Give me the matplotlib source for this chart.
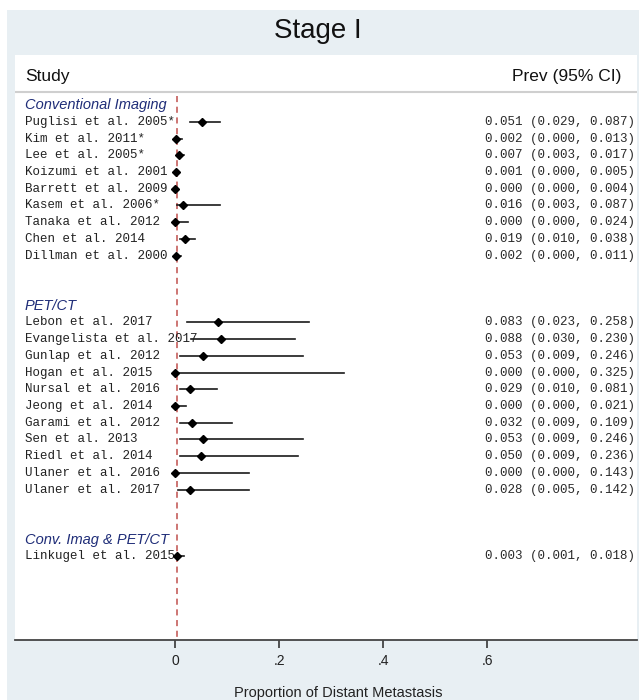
import numpy as np
import matplotlib.pyplot as plt
from matplotlib.patches import Rectangle

# ----------------------------------------------
# data
groups = ['Conventional Imaging', 'PET/CT', 'Conv. Imag & PET/CT']

conv_studies = ['Puglisi et al. 2005*', 'Kim et al. 2011*', 'Lee et al. 2005*',
                'Koizumi et al. 2001', 'Barrett et al. 2009', 'Kasem et al. 2006*',
                'Tanaka et al. 2012', 'Chen et al. 2014', 'Dillman et al. 2000']
conv_prev = [0.051, 0.002, 0.007, 0.001, 0.000, 0.016, 0.000, 0.019, 0.002]
conv_lo = [0.029, 0.000, 0.003, 0.000, 0.000, 0.003, 0.000, 0.010, 0.000]
conv_hi = [0.087, 0.013, 0.017, 0.005, 0.004, 0.087, 0.024, 0.038, 0.011]

pet_studies = ['Lebon et al. 2017', 'Evangelista et al. 2017', 'Gunlap et al. 2012',
               'Hogan et al. 2015', 'Nursal et al. 2016', 'Jeong et al. 2014',
               'Garami et al. 2012', 'Sen et al. 2013', 'Riedl et al. 2014',
               'Ulaner et al. 2016', 'Ulaner et al. 2017']
pet_prev = [0.083, 0.088, 0.053, 0.000, 0.029, 0.000, 0.032, 0.053, 0.050, 0.000, 0.028]
pet_lo = [0.023, 0.030, 0.009, 0.000, 0.010, 0.000, 0.009, 0.009, 0.009, 0.000, 0.005]
pet_hi = [0.258, 0.230, 0.246, 0.325, 0.081, 0.021, 0.109, 0.246, 0.236, 0.143, 0.142]

both_studies = ['Linkugel et al. 2015']
both_prev = [0.003]
both_lo = [0.001]
both_hi = [0.018]

xticks = [0, 0.2, 0.4, 0.6]
xtick_labels = ['0', '.2', '.4', '.6']
ref_line = 0.004

# ----------------------------------------------
bg = '#e8eff3'
navy = '#1f2d78'
mono = 'Liberation Mono'
sans = 'Liberation Sans'

fig = plt.figure(figsize=(6.39, 7.0), dpi=100, facecolor='white')
fig.patches.append(Rectangle((7 / 639, 0), 1, 1 - 10 / 700, transform=fig.transFigure,
                             facecolor=bg, edgecolor='none', zorder=-10))

ax = fig.add_axes([15 / 639, 60 / 700, 622 / 639, 585 / 700])
ax.set_facecolor('white')
ax.set_xlim(-0.3077, 0.888)
ax.set_ylim(32, -3)

# build row layout: group header, studies, two blank rows
sets = [(groups[0], conv_studies, conv_prev, conv_lo, conv_hi),
        (groups[1], pet_studies, pet_prev, pet_lo, pet_hi),
        (groups[2], both_studies, both_prev, both_lo, both_hi)]

row = 0
for name, studies, prev, lo, hi in sets:
    ax.text(-0.2885, row, name, fontsize=10.5, style='italic', color=navy,
            family=sans, va='center', ha='left')
    row += 1
    for s, p, l, h in zip(studies, prev, lo, hi):
        ax.plot([l, h], [row, row], color='#1a1a1a', lw=1.2, zorder=3)
        ax.plot(p, row, marker='D', color='black', ms=4.5, zorder=4)
        ax.text(-0.2885, row, s, fontsize=9, family=mono, color='#222222',
                va='center', ha='left')
        ax.text(0.885, row, '%.3f (%.3f, %.3f)' % (p, l, h), fontsize=9,
                family=mono, color='#2a2a2a', va='center', ha='right')
        row += 1
    row += 2

# reference line
ax.plot([ref_line, ref_line], [-0.55, 32], color='#c0504d', lw=1.1,
        ls=(0, (4, 3)), zorder=2)

# header
ax.text(-0.2885, -1.7, 'Study', fontsize=12.5, family=sans, color='#111111',
        va='center', ha='left')
ax.text(0.858, -1.7, 'Prev (95% CI)', fontsize=12.5, family=sans, color='#111111',
        va='center', ha='right')
ax.axhline(-0.8, color='#cfcfcf', lw=1.5)

# axis styling
for side in ['top', 'right', 'left']:
    ax.spines[side].set_visible(False)
ax.spines['bottom'].set_color('#444444')
ax.spines['bottom'].set_linewidth(1.3)
ax.set_yticks([])
ax.set_xticks(xticks)
ax.set_xticklabels(xtick_labels, family=sans, fontsize=10, color='#222222')
ax.tick_params(axis='x', direction='out', length=6, width=1.3, color='#444444', pad=4)

fig.text(0.497, 1 - 31 / 700, 'Stage I', fontsize=20, family=sans, color='#111111',
         ha='center', va='center')
fig.text(338 / 639, 1 - 693 / 700, 'Proportion of Distant Metastasis', fontsize=10.5,
         family=sans, color='#222222', ha='center', va='center')

fig.savefig('out.png', dpi=100, facecolor=fig.get_facecolor())
